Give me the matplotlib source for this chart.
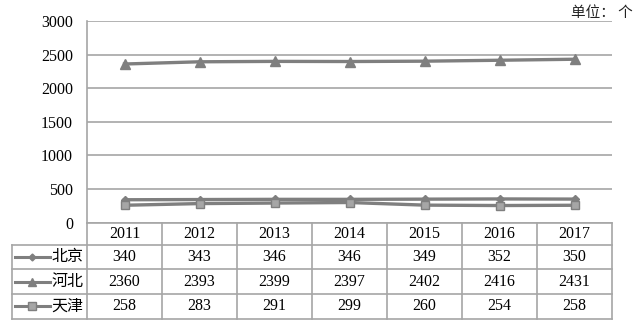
import matplotlib
matplotlib.use("Agg")
import matplotlib.pyplot as plt
from matplotlib.lines import Line2D

# data
years = ['2011', '2012', '2013', '2014', '2015', '2016', '2017']
beijing = [340, 343, 346, 346, 349, 352, 350]
hebei = [2360, 2393, 2399, 2397, 2402, 2416, 2431]
tianjin = [258, 283, 291, 299, 260, 254, 258]
names = ['北京', '河北', '天津']
yticks = [0, 500, 1000, 1500, 2000, 2500, 3000]

W, H = 639, 326
serif = ['Liberation Serif', 'DejaVu Serif']
cjk = ['Noto Sans CJK SC', 'DejaVu Sans']
line_c = '#7f7f7f'
grid_c = '#a6a6a6'

fig = plt.figure(figsize=(W / 100, H / 100), dpi=100)

def px_box(x0, y0, x1, y1):
    return [x0 / W, 1 - y1 / H, (x1 - x0) / W, (y1 - y0) / H]

# chart area
ax = fig.add_axes(px_box(87, 21, 612, 222.6))
x = list(range(len(years)))
series = [(beijing, 'D', 4, line_c), (hebei, '^', 7, line_c), (tianjin, 's', 6, '#a6a6a6')]
for vals, mk, ms, fc in series:
    ax.plot(x, vals, color=line_c, lw=2.4, marker=mk, markersize=ms,
            markerfacecolor=fc, markeredgecolor=line_c, markeredgewidth=1, zorder=3)
ax.set_xlim(-0.5, len(years) - 0.5)
ax.set_ylim(0, 3000)
ax.set_yticks(yticks)
ax.set_yticklabels([str(v) for v in yticks], family=serif, fontsize=11.5)
ax.set_xticks([])
ax.tick_params(axis='y', length=0, pad=10)
ax.yaxis.grid(True, color=grid_c, lw=1.2)
for s in ['top', 'right', 'bottom']:
    ax.spines[s].set_visible(False)
ax.spines['left'].set_color(grid_c)
ax.spines['left'].set_linewidth(1.2)

fig.text(633 / W, 1 - 13 / H, '单位： 个', family=cjk, fontsize=10.5,
         fontweight='light', ha='right', va='center', color='#222222')

# data table below the chart
tb = fig.add_axes(px_box(12, 222.6, 612, 318.5))
tb.set_xlim(-1.5, len(years) - 0.5)
rows = [0, 22, 46.5, 71.5, 96]
tb.set_ylim(rows[-1], 0)
tb.axis('off')
lk = dict(color=grid_c, lw=1.2, clip_on=False)
# horizontal lines
tb.plot([-0.5, len(years) - 0.5], [rows[0], rows[0]], **lk)
for r in rows[1:]:
    tb.plot([-1.5, len(years) - 0.5], [r, r], **lk)
# vertical lines
tb.plot([-1.5, -1.5], [rows[1], rows[-1]], **lk)
for c in range(len(years) + 1):
    tb.plot([c - 0.5, c - 0.5], [rows[0], rows[-1]], **lk)

for i, yr in enumerate(years):
    tb.text(i, (rows[0] + rows[1]) / 2, yr, ha='center', va='center',
            family=serif, fontsize=11.5)
table_vals = [beijing, hebei, tianjin]
legend_ms = [3.5, 5.5, 6]
for r, (vals, (_, mk, ms, fc)) in enumerate(zip(table_vals, series)):
    yc = (rows[r + 1] + rows[r + 2]) / 2
    for i, v in enumerate(vals):
        tb.text(i, yc, str(v), ha='center', va='center', family=serif, fontsize=11.5)
    tb.add_line(Line2D([-1.46, -1.0], [yc, yc], color=line_c, lw=2.2))
    tb.plot([-1.23], [yc], marker=mk, markersize=legend_ms[r], color=line_c,
            markerfacecolor=fc, markeredgecolor=line_c, markeredgewidth=1)
    tb.text(-0.97, yc, names[r], ha='left', va='center', family=cjk,
            fontsize=11.5, fontweight='light')

fig.savefig('out.png', dpi=100)
